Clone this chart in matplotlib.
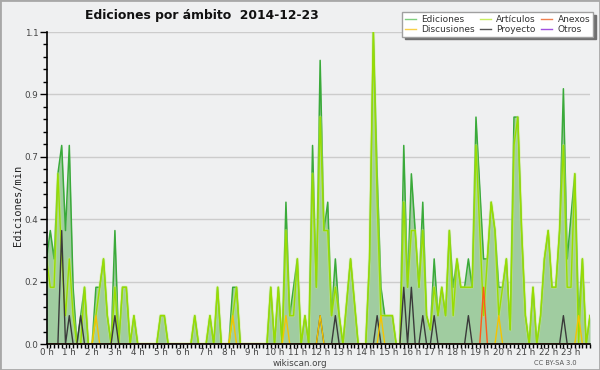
#!/usr/bin/env python3
import numpy as np
import matplotlib
matplotlib.use('Agg')
import matplotlib.pyplot as plt
from matplotlib.lines import Line2D
from matplotlib.patches import Rectangle

# edits/min in 10-minute slots, one row per hour
ediciones = [
    0.3, 0.4, 0.3, 0.6, 0.7, 0.4,
    0.7, 0.2, 0.0, 0.1, 0.2, 0.0,
    0.0, 0.2, 0.2, 0.3, 0.1, 0.0,
    0.4, 0.0, 0.2, 0.2, 0.0, 0.1,
    0.0, 0.0, 0.0, 0.0, 0.0, 0.0,
    0.1, 0.1, 0.0, 0.0, 0.0, 0.0,
    0.0, 0.0, 0.0, 0.1, 0.0, 0.0,
    0.0, 0.1, 0.0, 0.2, 0.0, 0.0,
    0.0, 0.2, 0.2, 0.0, 0.0, 0.0,
    0.0, 0.0, 0.0, 0.0, 0.0, 0.2,
    0.0, 0.2, 0.0, 0.5, 0.1, 0.2,
    0.3, 0.0, 0.1, 0.0, 0.7, 0.2,
    1.0, 0.4, 0.5, 0.1, 0.3, 0.1,
    0.0, 0.15, 0.3, 0.15, 0.0, 0.0,
    0.0, 0.3, 1.1, 0.6, 0.2, 0.1,
    0.1, 0.1, 0.0, 0.0, 0.7, 0.2,
    0.6, 0.4, 0.2, 0.5, 0.1, 0.05,
    0.3, 0.1, 0.2, 0.1, 0.4, 0.2,
    0.3, 0.2, 0.2, 0.3, 0.2, 0.8,
    0.55, 0.3, 0.3, 0.5, 0.4, 0.2,
    0.2, 0.3, 0.05, 0.8, 0.8, 0.4,
    0.1, 0.0, 0.2, 0.0, 0.1, 0.3,
    0.4, 0.2, 0.2, 0.4, 0.9, 0.3,
    0.45, 0.6, 0.1, 0.3, 0.0, 0.1,
]

articulos = [
    0.3, 0.2, 0.2, 0.6, 0.3, 0.1,
    0.3, 0.1, 0.0, 0.0, 0.2, 0.0,
    0.0, 0.1, 0.2, 0.3, 0.1, 0.0,
    0.2, 0.0, 0.2, 0.2, 0.0, 0.1,
    0.0, 0.0, 0.0, 0.0, 0.0, 0.0,
    0.1, 0.1, 0.0, 0.0, 0.0, 0.0,
    0.0, 0.0, 0.0, 0.1, 0.0, 0.0,
    0.0, 0.1, 0.0, 0.2, 0.0, 0.0,
    0.0, 0.1, 0.2, 0.0, 0.0, 0.0,
    0.0, 0.0, 0.0, 0.0, 0.0, 0.2,
    0.0, 0.2, 0.0, 0.4, 0.1, 0.1,
    0.3, 0.0, 0.1, 0.0, 0.6, 0.2,
    0.8, 0.4, 0.4, 0.1, 0.2, 0.1,
    0.0, 0.15, 0.3, 0.15, 0.0, 0.0,
    0.0, 0.3, 1.1, 0.5, 0.1, 0.1,
    0.1, 0.1, 0.0, 0.0, 0.5, 0.2,
    0.4, 0.4, 0.2, 0.4, 0.1, 0.05,
    0.2, 0.1, 0.2, 0.1, 0.4, 0.1,
    0.3, 0.2, 0.2, 0.2, 0.2, 0.7,
    0.4, 0.1, 0.3, 0.5, 0.4, 0.1,
    0.2, 0.3, 0.05, 0.7, 0.8, 0.4,
    0.1, 0.0, 0.2, 0.0, 0.1, 0.3,
    0.4, 0.2, 0.2, 0.4, 0.7, 0.2,
    0.2, 0.6, 0.0, 0.3, 0.0, 0.1,
]

# sparse series: slot index -> edits/min
proyecto = {4: 0.4, 6: 0.1, 9: 0.1, 18: 0.1, 72: 0.1, 76: 0.1, 87: 0.1,
            94: 0.2, 96: 0.2, 99: 0.1, 102: 0.1, 111: 0.1, 136: 0.1}
discusiones = {13: 0.1, 49: 0.1, 63: 0.1, 72: 0.1, 88: 0.1, 119: 0.1, 140: 0.1}
anexos = {115: 0.2}
otros = {}

hour_labels = [f'{h} h' for h in range(24)]
title = 'Ediciones por ámbito  2014-12-23'

BG = '#eff0f1'


def from_sparse(d: dict, n: int) -> np.ndarray:
    v = np.zeros(n)
    for k, val in d.items():
        v[k] = val
    return v


def main():
    n = len(ediciones)
    x = np.arange(n) / 6.0

    fig = plt.figure(figsize=(6, 3.7), dpi=100)
    fig.patch.set_facecolor(BG)
    ax = fig.add_axes([46.5 / 600, 26 / 370, 543.5 / 600, 312 / 370])
    ax.set_facecolor(BG)

    ax.fill_between(x, ediciones, color='#a0cca0', lw=0, zorder=1)
    ax.plot(x, ediciones, color='#3aaa3a', lw=1.1, zorder=2)
    ax.plot(x, articulos, color='#c8f070', lw=2.4, alpha=0.4, zorder=2)
    ax.plot(x, articulos, color='#99dd00', lw=1.0, zorder=2)
    ax.plot(x, from_sparse(proyecto, n), color='#3a3a3a', lw=1.0, zorder=2)
    ax.plot(x, from_sparse(discusiones, n), color='#f5c400', lw=1.0, zorder=2)
    ax.plot(x, from_sparse(anexos, n), color='#ff5a1a', lw=1.0, zorder=2)
    ax.plot(x, from_sparse(otros, n), color='#9b40e0', lw=1.0, zorder=2)

    ax.set_xlim(0, x[-1])
    ax.set_ylim(0, 1.1)

    ax.set_xticks(np.arange(24))
    ax.set_xticklabels(hour_labels)
    ax.set_xticks(x, minor=True)
    yt = np.linspace(0, 1.1, 6)
    ax.set_yticks(yt)
    ax.set_yticklabels(['%.1f' % v for v in yt])
    ax.set_yticks(np.linspace(0, 1.1, 26), minor=True)

    ax.tick_params(axis='both', which='both', direction='out', width=1,
                   color='black', labelsize=6.3, labelcolor='#444444')
    ax.tick_params(axis='x', which='major', length=3, pad=0)
    ax.tick_params(axis='x', which='minor', length=3)
    ax.tick_params(axis='y', which='major', length=5, pad=1)
    ax.tick_params(axis='y', which='minor', length=3)

    ax.yaxis.grid(True, color='#cccccc', lw=1)
    ax.set_axisbelow(True)
    for s in ('top', 'right'):
        ax.spines[s].set_visible(False)
    for s in ('left', 'bottom'):
        ax.spines[s].set_linewidth(1.2)

    handles = [
        Line2D([], [], color='#7fcf7f', lw=1),
        Line2D([], [], color='#f8d048', lw=1),
        Line2D([], [], color='#c8ee60', lw=1),
        Line2D([], [], color='#555555', lw=1),
        Line2D([], [], color='#f08050', lw=1),
        Line2D([], [], color='#a050e0', lw=1),
    ]
    names = ['Ediciones', 'Discusiones', 'Artículos', 'Proyecto', 'Anexos', 'Otros']
    leg = fig.legend(handles, names, ncol=3, loc='upper right',
                     bbox_to_anchor=(593 / 600, 1 - 12 / 370), borderaxespad=0,
                     fontsize=6.5, handlelength=1.2, handletextpad=0.6,
                     columnspacing=0.6, labelspacing=0.12, borderpad=0.3,
                     fancybox=False, framealpha=1, edgecolor='#a0a0a0',
                     shadow={'color': '#707070', 'alpha': 1, 'ox': 2, 'oy': -2})
    leg.get_frame().set_linewidth(1)
    for t in leg.get_texts():
        t.set_color('#333333')

    fig.text(85 / 600, 1 - 15 / 370, title, fontsize=8.9, fontweight='bold',
             va='center', ha='left', color='#111111')
    fig.text(18 / 600, 1 - 205 / 370, 'Ediciones/min', rotation=90,
             family='DejaVu Sans Mono', fontsize=7.5, va='center', ha='center',
             color='#222222')
    fig.text(0.5, 1 - 363 / 370, 'wikiscan.org', ha='center', va='center',
             fontsize=6.3, color='#444444')
    fig.text(555 / 600, 1 - 363 / 370, 'CC BY-SA 3.0', ha='center', va='center',
             fontsize=4.8, color='#555555')

    fig.add_artist(Rectangle((0, 0), 1, 1, transform=fig.transFigure,
                             fill=False, edgecolor='#a8a8a8', lw=2))

    plt.savefig('out.png', dpi=100)


if __name__ == '__main__':
    main()
